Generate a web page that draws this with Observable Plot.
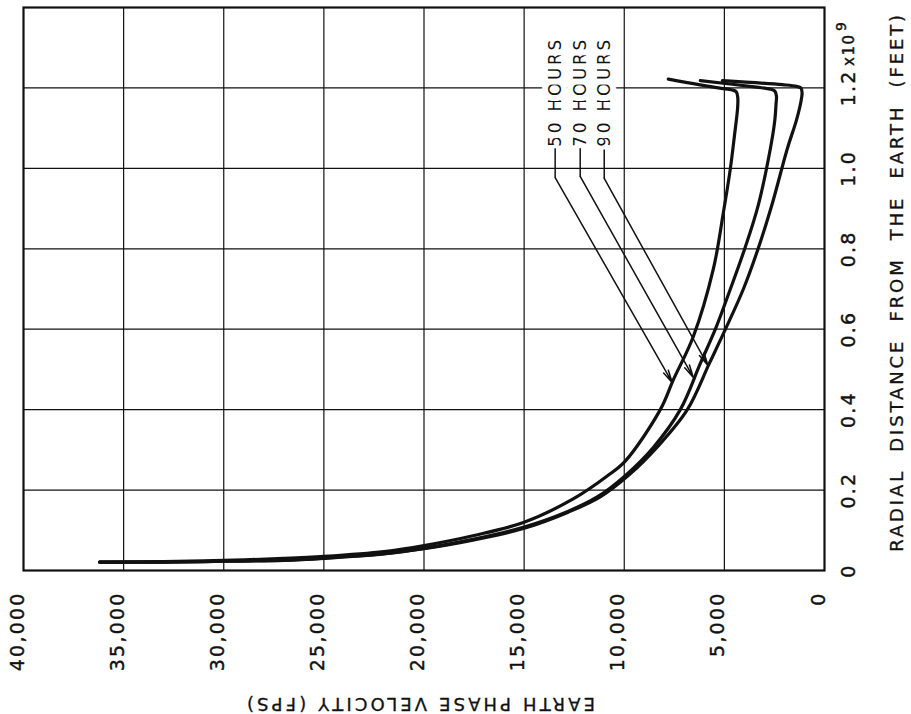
<!DOCTYPE html>
<html><head><meta charset="utf-8">
<script src="https://cdn.jsdelivr.net/npm/d3@7"></script>
<script src="https://cdn.jsdelivr.net/npm/@observablehq/plot@0.6"></script>
<style>body{margin:0;background:#fff} svg{display:block}</style>
</head><body><div id="chart"></div>
<script>
// Tick values and labels
const velTicks = [40000, 35000, 30000, 25000, 20000, 15000, 10000, 5000, 0];
const velLabels = ["40,000", "35,000", "30,000", "25,000", "20,000", "15,000", "10,000", "5,000", "0"];
const distTicks = [0, 0.2, 0.4, 0.6, 0.8, 1.0, 1.2];
const distLabels = ["0", "0.2", "0.4", "0.6", "0.8", "1.0", "1.2"];
const gridVel = [35000, 30000, 25000, 20000, 15000, 10000, 5000];
const gridDist = [0.2, 0.4, 0.6, 0.8, 1.0, 1.2];

// Series: earth phase velocity (fps) vs radial distance (1e9 ft)
const seriesNames = ["50 HOURS", "70 HOURS", "90 HOURS"];
const vel50 = [36200, 33000, 30000, 27000, 25000, 22000, 20000, 17500, 15000, 12550, 10850, 9950, 8200, 7550, 6550, 5550, 5050, 4700, 4500, 4340, 4330, 4400, 4600, 5300, 7800];
const dist50 = [0.021, 0.022, 0.025, 0.030, 0.035, 0.047, 0.062, 0.087, 0.12, 0.178, 0.235, 0.272, 0.40, 0.474, 0.582, 0.75, 0.89, 1.0, 1.08, 1.15, 1.175, 1.19, 1.195, 1.20, 1.222];
const vel70 = [36200, 33000, 30000, 27000, 25000, 22000, 20000, 17500, 15000, 13000, 11350, 9950, 8550, 7200, 6200, 5450, 4700, 3950, 3300, 2700, 2480, 2420, 2400, 2480, 2700, 3400, 6200];
const dist70 = [0.021, 0.021, 0.023, 0.026, 0.031, 0.042, 0.055, 0.078, 0.108, 0.143, 0.183, 0.236, 0.306, 0.40, 0.515, 0.60, 0.70, 0.805, 0.91, 1.05, 1.12, 1.16, 1.18, 1.192, 1.197, 1.202, 1.218];
const vel90 = [36200, 33000, 30000, 27000, 25000, 22000, 20000, 17500, 15000, 12800, 11200, 9800, 8300, 6850, 5750, 4900, 4050, 3350, 2650, 1850, 1400, 1180, 1120, 1180, 1400, 2100, 5100];
const dist90 = [0.021, 0.021, 0.023, 0.025, 0.030, 0.041, 0.054, 0.076, 0.105, 0.145, 0.183, 0.236, 0.31, 0.40, 0.515, 0.605, 0.70, 0.795, 0.905, 1.05, 1.12, 1.165, 1.188, 1.2, 1.204, 1.208, 1.218];

// Annotation: labels and leader arrows
const labelVel = [13450, 12200, 11000];
const labelDist = [1.187, 1.187, 1.187];
const leaderTopDist = [1.05, 1.05, 1.047];
const leaderBendDist = [0.977, 0.98, 0.975];
const arrowTipVel = [7600, 6550, 5820];
const arrowTipDist = [0.467, 0.48, 0.51];

const xTitle = "EARTH PHASE VELOCITY (FPS)";
const yTitle = "RADIAL  DISTANCE  FROM  THE  EARTH  (FEET)";
const xTitleVel = 20150, yTitleDist = 0.714;

const rows = [];
[[vel50, dist50], [vel70, dist70], [vel90, dist90]].forEach(([vs, ds], k) =>
  vs.forEach((v, i) => rows.push({series: seriesNames[k], v, r: ds[i]})));
const ann = seriesNames.map((s, i) => ({
  s, lv: labelVel[i], ld: labelDist[i], top: leaderTopDist[i], bend: leaderBendDist[i],
  tv: arrowTipVel[i], td: arrowTipDist[i]
}));

const ink = "#111";
const chart = Plot.plot({
  width: 911, height: 714,
  marginLeft: 23, marginRight: 87, marginTop: 7, marginBottom: 144,
  x: {domain: [40000, 0], axis: null},
  y: {domain: [0, 1.4], axis: null},
  style: {fontFamily: "DejaVu Sans, sans-serif", background: "#fff", color: ink},
  marks: [
    Plot.ruleX(gridVel, {stroke: ink, strokeWidth: 1.2}),
    Plot.ruleY(gridDist, {stroke: ink, strokeWidth: 1.2}),
    Plot.frame({stroke: ink, strokeWidth: 2.2}),
    Plot.line(rows, {x: "v", y: "r", z: "series", curve: "catmull-rom", stroke: ink, strokeWidth: 3.2}),
    Plot.text(ann, {x: "lv", y: "ld", text: "s", rotate: -90, textAnchor: "middle", fontSize: 17,
      fill: ink, stroke: "#fff", strokeWidth: 12}),
    Plot.link(ann, {x1: "lv", x2: "lv", y1: "top", y2: "bend", stroke: ink, strokeWidth: 1.5}),
    Plot.arrow(ann, {x1: "lv", y1: "bend", x2: "tv", y2: "td", stroke: ink, strokeWidth: 1.5, headLength: 13, headAngle: 24}),
    Plot.text(velTicks, {x: d => d, text: (d, i) => velLabels[i], frameAnchor: "bottom", dy: 21,
      rotate: -90, textAnchor: "end", fontSize: 19, fill: ink, stroke: ink, strokeWidth: 0.4}),
    Plot.text(distTicks, {y: d => d, text: (d, i) => distLabels[i], frameAnchor: "right", dx: 24,
      rotate: -90, textAnchor: "middle", fontSize: 19, fill: ink, stroke: ink, strokeWidth: 0.4}),
    Plot.text(["x10"], {y: () => 1.2, text: d => d, frameAnchor: "right", dx: 25, dy: -22,
      rotate: -90, textAnchor: "start", fontSize: 15, fill: ink, stroke: ink, strokeWidth: 0.4}),
    Plot.text(["9"], {y: () => 1.2, text: d => d, frameAnchor: "right", dx: 17, dy: -57,
      rotate: -90, textAnchor: "start", fontSize: 14, fill: ink, stroke: ink, strokeWidth: 0.4}),
    Plot.text([xTitle], {x: () => xTitleVel, text: d => d, frameAnchor: "bottom", dy: 127,
      rotate: 180, textAnchor: "middle", fontSize: 18, fill: ink, stroke: ink, strokeWidth: 0.3}),
    Plot.text([yTitle], {y: () => yTitleDist, text: d => d, frameAnchor: "right", dx: 73,
      rotate: -90, textAnchor: "middle", fontSize: 18, fill: ink, stroke: ink, strokeWidth: 0.3})
  ]
});
document.getElementById("chart").append(chart);
// Typographic spacing to match the wide lettering of the original
const tickSet = new Set([...velLabels, ...distLabels]);
d3.select(chart).selectAll("text").each(function () {
  const t = this.textContent, s = d3.select(this);
  if (seriesNames.includes(t)) s.attr("textLength", 107).attr("lengthAdjust", "spacing");
  else if (tickSet.has(t)) s.attr("letter-spacing", "2.2px");
  else if (t === "x10") s.attr("letter-spacing", "1.5px");
  else if (t === xTitle) s.attr("textLength", 348).attr("lengthAdjust", "spacing");
  else if (t === yTitle) s.attr("textLength", 537).attr("lengthAdjust", "spacing");
});
</script></body></html>
